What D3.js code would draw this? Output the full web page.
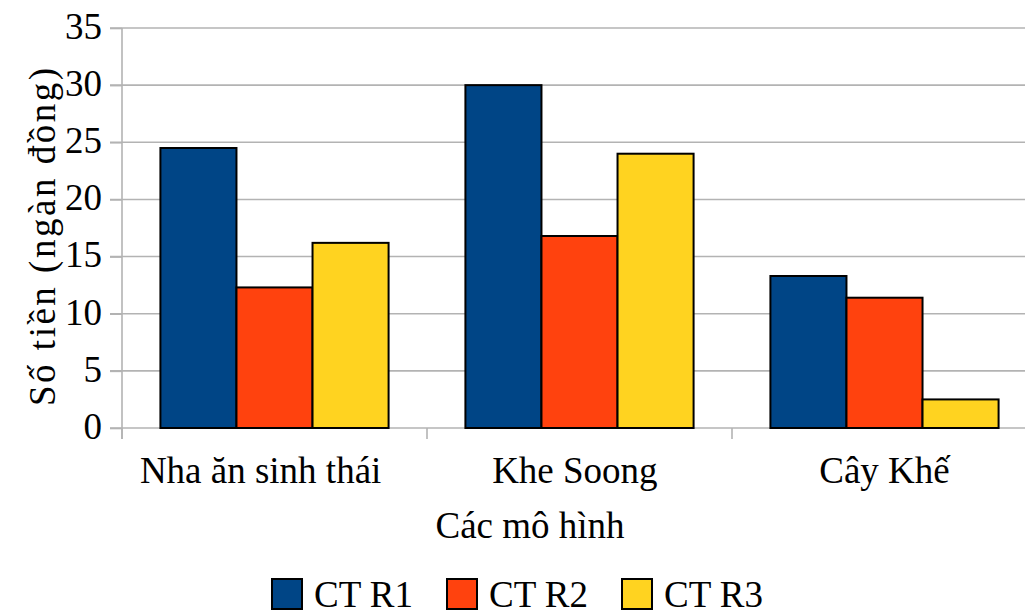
<!DOCTYPE html>
<html>
<head>
<meta charset="utf-8">
<script src="https://cdn.jsdelivr.net/npm/d3@7"></script>
<style>
  html, body { margin: 0; padding: 0; background: #fff; }
  .cat-label { white-space: pre; }
</style>
</head>
<body>
<svg id="chart" width="1025" height="614" font-family="Liberation Serif"></svg>
<script>
// Chart data (category names keep the trailing blanks of the source labels)
const categories = ["Nha ăn sinh thái   ", "Khe Soong ", "Cây Khế"];
const seriesNames = ["CT R1", "CT R2", "CT R3"];
const seriesR1 = [24.5, 30, 13.3];
const seriesR2 = [12.3, 16.8, 11.4];
const seriesR3 = [16.2, 24, 2.5];
const yTicks = [0, 5, 10, 15, 20, 25, 30, 35];
const colors = ["#004586", "#ff420e", "#ffd320"];

const seriesValues = [seriesR1, seriesR2, seriesR3];
const FONT = "Liberation Serif";

const svg = d3.select("#chart");
const plot = { left: 122, right: 1037, top: 28, bottom: 428 };

const x0 = d3.scaleBand().domain(categories).range([plot.left, plot.right]).padding(0);
const x1 = d3.scaleBand().domain(seriesNames).range([0, x0.bandwidth()])
  .paddingInner(0).paddingOuter(0.505);
const y = d3.scaleLinear().domain([0, 35]).range([plot.bottom, plot.top]);

// Horizontal gridlines
svg.append("g")
  .selectAll("line")
  .data(yTicks)
  .join("line")
  .attr("x1", plot.left - 12)
  .attr("x2", 1025)
  .attr("y1", d => y(d))
  .attr("y2", d => y(d))
  .attr("stroke", "#b3b3b3")
  .attr("stroke-width", 1.6);

// Y axis
const yAxis = d3.axisLeft(y).tickValues(yTicks).tickSize(12).tickPadding(8);
const gy = svg.append("g").attr("transform", `translate(${plot.left},0)`).call(yAxis);
gy.attr("font-family", FONT).attr("font-size", 37);
gy.select(".domain").remove();
gy.selectAll(".tick line").attr("stroke", "#b3b3b3").attr("stroke-width", 1.6);
gy.selectAll(".tick text")
  .attr("fill", "#000")
  .attr("dy", "0.28em");
svg.append("line")
  .attr("x1", plot.left).attr("x2", plot.left)
  .attr("y1", plot.top).attr("y2", plot.bottom + 11)
  .attr("stroke", "#b3b3b3").attr("stroke-width", 1.6);

// X axis ticks at category boundaries
const boundaries = categories.map(c => x0(c));
svg.append("g")
  .selectAll("line")
  .data(boundaries)
  .join("line")
  .attr("x1", d => d).attr("x2", d => d)
  .attr("y1", plot.bottom).attr("y2", plot.bottom + 11)
  .attr("stroke", "#b3b3b3").attr("stroke-width", 1.6);

// Bars
const groups = svg.append("g")
  .selectAll("g")
  .data(categories)
  .join("g")
  .attr("transform", d => `translate(${x0(d)},0)`);

groups.selectAll("rect")
  .data((c, i) => seriesNames.map((s, k) => ({ s, k, v: seriesValues[k][i] })))
  .join("rect")
  .attr("x", d => x1(d.s))
  .attr("y", d => y(d.v))
  .attr("width", x1.bandwidth())
  .attr("height", d => y(0) - y(d.v))
  .attr("fill", d => colors[d.k])
  .attr("stroke", "#000")
  .attr("stroke-width", 2);

// Category labels
svg.append("g")
  .attr("font-family", FONT)
  .attr("font-size", 37)
  .selectAll("text")
  .data(categories)
  .join("text")
  .attr("class", "cat-label")
  .attr("xml:space", "preserve")
  .attr("x", d => x0(d) + x0.bandwidth() / 2)
  .attr("y", 483)
  .attr("text-anchor", "middle")
  .text(d => d);

// Axis titles
svg.append("text")
  .attr("x", 530).attr("y", 538)
  .attr("text-anchor", "middle")
  .attr("font-family", FONT)
  .attr("font-size", 37)
  .text("Các mô hình");

svg.append("text")
  .attr("transform", "translate(55,237) rotate(-90)")
  .attr("text-anchor", "middle")
  .attr("font-family", FONT)
  .attr("font-size", 37)
  .attr("textLength", 338)
  .attr("lengthAdjust", "spacing")
  .text("Số tiền (ngàn đồng)");

// Legend
const legend = svg.append("g")
  .attr("font-family", FONT)
  .attr("font-size", 37)
  .selectAll("g")
  .data(seriesNames)
  .join("g")
  .attr("transform", (d, i) => `translate(${272 + i * 175},579)`);

legend.append("rect")
  .attr("width", 30).attr("height", 30)
  .attr("fill", (d, i) => colors[i])
  .attr("stroke", "#000").attr("stroke-width", 2);

legend.append("text")
  .attr("x", 42).attr("y", 28)
  .text(d => d);
</script>
</body>
</html>
